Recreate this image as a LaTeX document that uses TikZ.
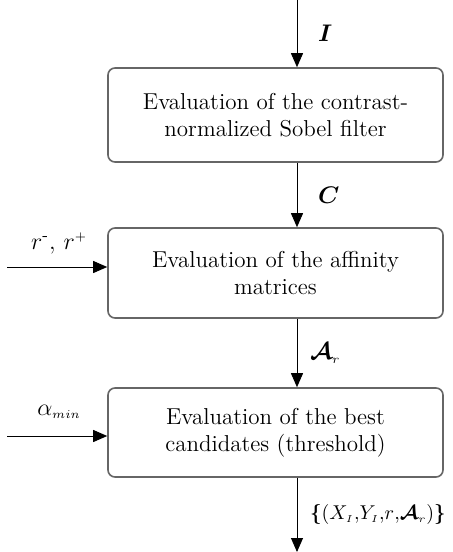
\documentclass[tikz,border=0pt]{standalone}
\usepackage{amsmath,amssymb,bm}
\usetikzlibrary{arrows.meta,positioning}

\begin{document}
\begin{tikzpicture}[x=0.5pt,y=-0.5pt,>={Triangle[length=7pt,width=6pt]},auto,
    font=\fontsize{11.5}{13.5}\selectfont]

  \tikzstyle{stage}=[rectangle,rounded corners=3.5pt,draw=black!60,thick,
    fill=white,minimum width=167.5pt,minimum height=47pt,align=center]
  \tikzstyle{flow}=[->,line width=0.45pt,black]
  \tikzstyle{tag}=[font=\normalsize]

  \useasboundingbox (0,0) rectangle (453,552);

  \node  (sobel)    at (275.5,115)   [stage]
         {Evaluation of the contrast-\\normalized Sobel filter};
  \node  (affinity) at (275.5,273)   [stage,minimum height=45pt]
         {Evaluation of the affinity\\matrices};
  \node  (best)     at (275.5,432.5) [stage,minimum height=44.5pt]
         {Evaluation of the best\\candidates (threshold)};

  \coordinate (in)   at (297,0);
  \coordinate (out)  at (297,552);
  \coordinate (rin)  at (7,267);
  \coordinate (ain)  at (7,436);

  \draw [flow] (in) -- (in |- sobel.north)
        node[pos=0.5,xshift=7pt] {$\bm{I}$};
  \draw [flow] (in |- sobel.south) -- (in |- affinity.north)
        node[pos=0.5,xshift=7pt] {$\bm{C}$};
  \draw [flow] (in |- affinity.south) -- (in |- best.north)
        node[pos=0.5,xshift=3pt] {$\bm{\mathcal{A}}_{\scriptscriptstyle r}$};
  \draw [flow] (in |- best.south) -- (out)
        node[tag,pos=0.5,xshift=3pt] {$\bm{\{}(X_{\scriptscriptstyle I}{,}Y_{\scriptscriptstyle I}{,}r{,}\bm{\mathcal{A}}_{\scriptscriptstyle r})\bm{\}}$};

  \draw [flow] (rin) -- (rin -| affinity.west)
        node[pos=0.52,above=3pt] {$r^{\text{-}},\, r^{\scriptscriptstyle +}$};
  \draw [flow] (ain) -- (ain -| best.west)
        node[pos=0.52,above=5pt] {$\alpha_{\scriptscriptstyle min}$};

\end{tikzpicture}
\end{document}
